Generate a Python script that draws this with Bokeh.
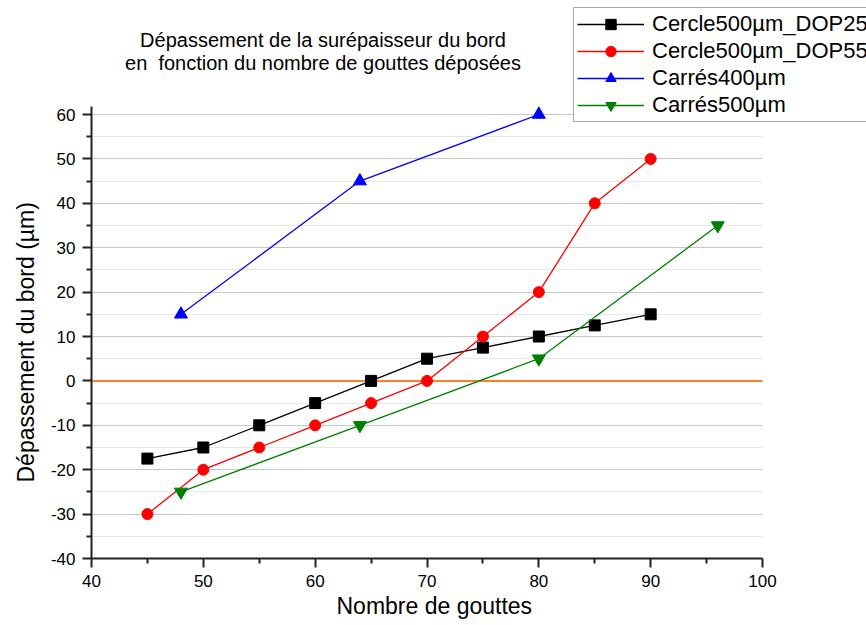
from bokeh.plotting import figure
from bokeh.models import Range1d, Legend, LegendItem, Label, FixedTicker, Title
from bokeh.embed import file_html
from bokeh.resources import INLINE

# ---- data ----
x_dop25 = [45, 50, 55, 60, 65, 70, 75, 80, 85, 90]
y_dop25 = [-17.5, -15, -10, -5, 0, 5, 7.5, 10, 12.5, 15]

x_dop55 = [45, 50, 55, 60, 65, 70, 75, 80, 85, 90]
y_dop55 = [-30, -20, -15, -10, -5, 0, 10, 20, 40, 50]

x_c400 = [48, 64, 80]
y_c400 = [15, 45, 60]

x_c500 = [48, 64, 80, 96]
y_c500 = [-25, -10, 5, 35]

series_names = ["Cercle500µm_DOP25", "Cercle500µm_DOP55", "Carrés400µm", "Carrés500µm"]
reference_level = 0
x_ticks_major = [40, 50, 60, 70, 80, 90, 100]
x_ticks_minor = [45, 55, 65, 75, 85, 95]
y_ticks_major = [-40, -30, -20, -10, 0, 10, 20, 30, 40, 50, 60]
y_ticks_minor = [-35, -25, -15, -5, 5, 15, 25, 35, 45, 55]
x_axis_limits = (40, 100)
y_axis_limits = (-40, 61.8)

title_lines = ["Dépassement de la surépaisseur du bord",
               "en \u00a0fonction du nombre de gouttes déposées"]
x_label = "Nombre de gouttes"
y_label = "Dépassement du bord (µm)"

FONT = "Liberation Sans"

# frame spans to the top and right canvas edges so that the legend/title can overlap
W, H = 866, 625
LEFT, BOTTOM = 91, 67
px_per_x = 671 / (x_axis_limits[1] - x_axis_limits[0])
px_per_y = 444 / (60 - (-40))
x_end = x_axis_limits[0] + (W - LEFT) / px_per_x
y_end = y_axis_limits[0] + (H - BOTTOM) / px_per_y

p = figure(width=W, height=H, output_backend="svg", toolbar_location=None, title=None,
           x_range=Range1d(x_axis_limits[0], x_end), y_range=Range1d(y_axis_limits[0], y_end),
           min_border_left=LEFT, min_border_right=0, min_border_top=0,
           min_border_bottom=BOTTOM)
p.outline_line_color = None
p.background_fill_color = "white"
p.border_fill_color = "white"

# axes
for ax in (p.xaxis[0], p.yaxis[0]):
    ax.axis_line_color = "#222222"
    ax.axis_line_width = 2
    ax.major_tick_line_color = "#222222"
    ax.major_tick_line_width = 2
    ax.minor_tick_line_color = "#222222"
    ax.minor_tick_line_width = 2
    ax.major_tick_out = 9
    ax.major_tick_in = 0
    ax.minor_tick_out = 5
    ax.minor_tick_in = 0
    ax.major_label_text_font = FONT
    ax.major_label_text_font_size = "17px"
    ax.major_label_text_color = "black"

p.xaxis.ticker = FixedTicker(ticks=x_ticks_major, minor_ticks=x_ticks_minor)
p.yaxis.ticker = FixedTicker(ticks=y_ticks_major, minor_ticks=y_ticks_minor)
p.xaxis.bounds = x_axis_limits
p.yaxis.bounds = y_axis_limits
p.yaxis.major_label_overrides = {v: str(v) for v in y_ticks_major}
p.xaxis.major_label_standoff = 7
p.yaxis.major_label_standoff = 7

# axis titles centred on the axis extents (not on the wider frame)
p.add_layout(Title(text=x_label, align="left", offset=245, standoff=2,
                   text_font=FONT, text_font_size="23px", text_font_style="normal",
                   text_color="black"), "below")
p.add_layout(Title(text=y_label, align="left", offset=76, standoff=17,
                   text_font=FONT, text_font_size="23px", text_font_style="normal",
                   text_color="black"), "left")

# grids: horizontal only, limited to the axis extent
p.xgrid.visible = False
yg = p.ygrid[0]
yg.ticker = FixedTicker(ticks=y_ticks_major, minor_ticks=y_ticks_minor)
yg.bounds = y_axis_limits
if "cross_bounds" in yg.properties():
    yg.cross_bounds = x_axis_limits
    yg.grid_line_color = "#c8c8c8"
    yg.grid_line_width = 1
    yg.minor_grid_line_color = "#e8e8e8"
    yg.minor_grid_line_width = 1
else:
    yg.visible = False
    n_maj, n_min = len(y_ticks_major), len(y_ticks_minor)
    p.segment(x0=[x_axis_limits[0]] * n_maj, x1=[x_axis_limits[1]] * n_maj,
              y0=y_ticks_major, y1=y_ticks_major, line_color="#c8c8c8", line_width=1,
              level="underlay")
    p.segment(x0=[x_axis_limits[0]] * n_min, x1=[x_axis_limits[1]] * n_min,
              y0=y_ticks_minor, y1=y_ticks_minor, line_color="#e8e8e8", line_width=1,
              level="underlay")

# reference line at 0 across the axis extent
p.line(list(x_axis_limits), [reference_level, reference_level],
       line_color="#ff7f27", line_width=2)

# series
specs = [
    (x_dop25, y_dop25, "black", "square", 11),
    (x_dop55, y_dop55, "#ff0000", "circle", 11),
    (x_c400, y_c400, "#0000ff", "triangle", 13),
    (x_c500, y_c500, "#008000", "inverted_triangle", 13),
]
items = []
for (xs, ys, col, mk, sz), name in zip(specs, series_names):
    r1 = p.line(xs, ys, line_color=col, line_width=1.3)
    r2 = p.scatter(xs, ys, marker=mk, size=sz, fill_color=col, line_color=col)
    items.append(LegendItem(label=name, renderers=[r1, r2]))

legend = Legend(items=items, location=(482, 436),
                label_text_font=FONT, label_text_font_size="22px",
                label_text_color="black",
                glyph_width=67, glyph_height=26, label_height=26,
                label_standoff=8, spacing=1, padding=3, margin=0,
                border_line_color="#555555", border_line_width=1.5,
                background_fill_color="white", background_fill_alpha=1.0)
p.add_layout(legend, "center")

# title (two centered lines), positioned above the axes
title_x = 60.7
title_y = [76.7, 71.5]
for line, ty in zip(title_lines, title_y):
    p.add_layout(Label(x=title_x, y=ty, text=line, text_align="center",
                       text_baseline="middle", text_font=FONT,
                       text_font_size="20px", text_color="black"))

open("out.html", "w").write(file_html(p, INLINE))
